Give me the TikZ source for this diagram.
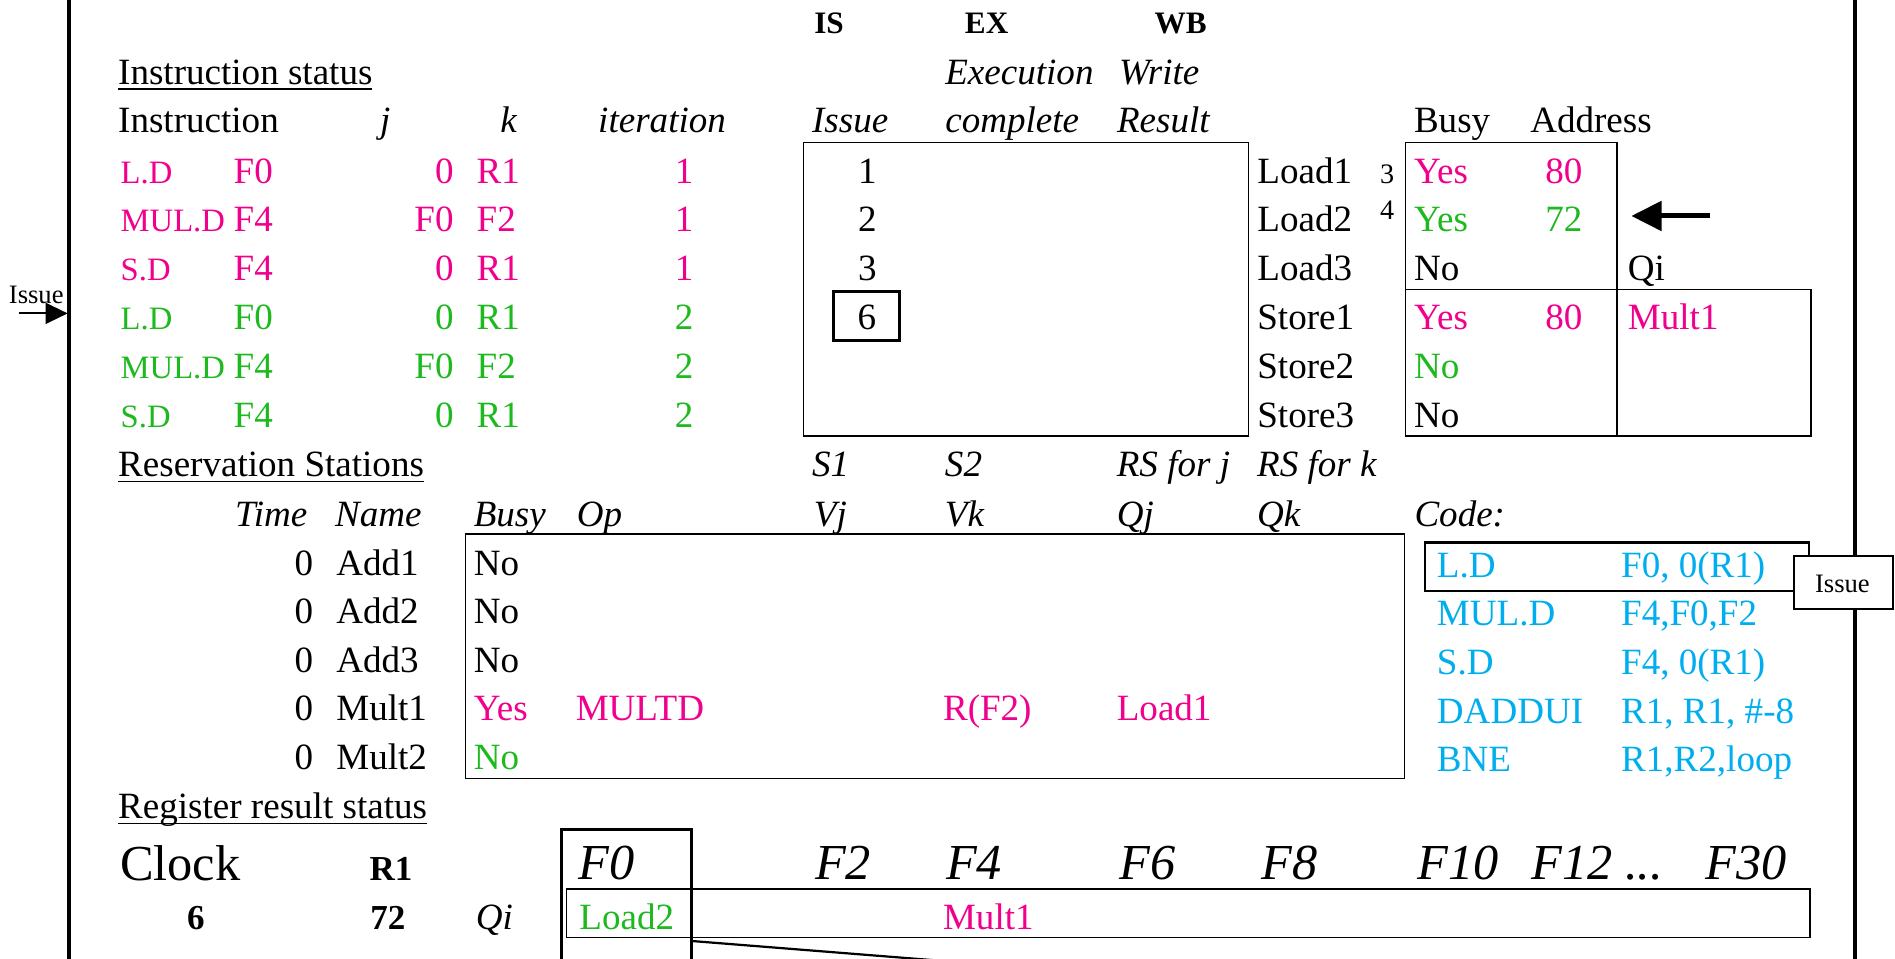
\documentclass[tikz,border=0pt]{standalone}
\usepackage{fontspec}
\setmainfont{Liberation Serif}
\usetikzlibrary{arrows.meta}
\definecolor{pinkc}{RGB}{240,0,140}
\definecolor{greenc}{RGB}{30,185,30}
\definecolor{bluec}{RGB}{0,174,239}
\newcommand{\mysizeN}{\fontsize{18.4}{22}\selectfont}
\newcommand{\mysizeO}{\fontsize{16.2}{20}\selectfont}
\newcommand{\mysizeB}{\fontsize{25}{30}\selectfont}
\newcommand{\mysizeS}{\fontsize{13.2}{16}\selectfont}
\newcommand{\mysizeH}{\fontsize{15.5}{18}\selectfont\bfseries}
\newcommand{\mysizeR}{\fontsize{17.4}{20}\selectfont\bfseries}
\newcommand{\mysizeD}{\fontsize{14}{16}\selectfont}
\begin{document}
\begin{tikzpicture}[x=0.6pt,y=-0.6pt,
  txt/.style={inner sep=0pt,outer sep=0pt,font=\mysizeN,anchor=base west},
  txtr/.style={txt,anchor=base east},
  txtc/.style={txt,anchor=base},
  ital/.style={font=\mysizeN\itshape},
  opf/.style={font=\mysizeO},
  hdr/.style={txtc,font=\mysizeH},
  regb/.style={txtc,font=\mysizeR},
  bigt/.style={txt,font=\mysizeB},
  bigit/.style={txt,font=\mysizeB\itshape},
  smallt/.style={txtc,font=\mysizeS},
  tinyt/.style={txtc,font=\mysizeD},
  thinbox/.style={draw,line width=0.65pt},
  medbox/.style={draw,line width=1.1pt},
  thickbox/.style={draw,line width=1.5pt},
  frameline/.style={draw,line width=2pt},
  ul/.style={draw,line width=0.75pt},
]
\useasboundingbox (0,0) rectangle (1568,793.5);
\clip (0,0) rectangle (1568,793.5);

% frame lines
\draw[frameline] (57.1,-5) -- (57.1,800);
\draw[frameline] (1535,-5) -- (1535,800);

% left Issue arrow
\node[smallt] (issueL) at (30,251) {Issue};
\coordinate (issueTail) at (15.7,259.3);
\coordinate (issueTip) at (56,259.3);
\draw[line width=1pt,-{Triangle[length=11pt,width=10.4pt]}] (issueTail) -- (issueTip);

% top headers
\node[hdr] (hIS) at (686,27.3) {IS};
\node[hdr] (hEX) at (816.4,27.3) {EX};
\node[hdr] (hWB) at (977,27.3) {WB};

\node[txt] (tInstStatus) at (97.8,70.3) {Instruction status};
\draw[ul] ([yshift=-2pt]tInstStatus.base west) -- ([yshift=-2pt]tInstStatus.base east);
\node[txt,ital] (tExec) at (782.2,70.3) {Execution};
\node[txt,ital] (tWrite) at (926,70.3) {Write};

\node[txt] (hInstr) at (97.8,110) {Instruction};
\node[txtc,ital] (hj) at (318.7,110) {j};
\node[txtc,ital] (hk) at (420.8,110) {k};
\node[txt,ital] (hIter) at (495,110) {iteration};
\node[txt,ital] (hIssue) at (672,110) {Issue};
\node[txt,ital] (hCompl) at (782.2,110) {complete};
\node[txt,ital] (hResult) at (924.3,110) {Result};
\node[txt] (hBusy) at (1170,110) {Busy};
\node[txt] (hAddr) at (1266.2,110) {Address};

% instruction rows
\foreach \n/\op/\d/\j/\k/\itn/\c in {1/L.D/F0/0/R1/1/pinkc,2/MUL.D/F4/F0/F2/1/pinkc,3/S.D/F4/0/R1/1/pinkc,4/L.D/F0/0/R1/2/greenc,5/MUL.D/F4/F0/F2/2/greenc,6/S.D/F4/0/R1/2/greenc}{
  \pgfmathsetmacro{\yy}{151.5+40.4*(\n-1)}
  \node[txt,opf,text=\c] (op\n) at (99.9,\yy) {\op};
  \node[txt,text=\c] (dst\n) at (193.4,\yy) {\d};
  \node[txtr,text=\c] (j\n) at (375.3,\yy) {\j};
  \node[txt,text=\c] (k\n) at (394.4,\yy) {\k};
  \node[txtc,text=\c] (it\n) at (566,\yy) {\itn};
}

% issue box
\draw[thinbox] (664.7,118) rectangle (1033.3,360.8);
\node[txtc] (is1) at (717.7,151.5) {1};
\node[txtc] (is2) at (717.7,191.9) {2};
\node[txtc] (is3) at (717.7,232.3) {3};
\node[txtc] (is6) at (717.3,272.7) {6};
\draw[thickbox] (690,241.3) rectangle (744.2,281.9);

% load/store buffers
\foreach \n/\nm in {1/Load1,2/Load2,3/Load3,4/Store1,5/Store2,6/Store3}{
  \pgfmathsetmacro{\yy}{151.5+40.4*(\n-1)}
  \node[txt] (buf\n) at (1040.4,\yy) {\nm};
}
\node[tinyt] (cnt3) at (1147.7,151.5) {3};
\node[tinyt] (cnt4) at (1147.7,182) {4};

\draw[thinbox] (1163,118) rectangle (1338,360.8);
\draw[thinbox] (1338,239.4) rectangle (1498.5,360.8);
\draw[thinbox] (1163,239.4) -- (1338,239.4);

\node[txt,text=pinkc] (b1) at (1170,151.5) {Yes};
\node[txtc,text=pinkc] (a1) at (1294,151.5) {80};
\node[txt,text=greenc] (b2) at (1170,191.9) {Yes};
\node[txtc,text=greenc] (a2) at (1294,191.9) {72};
\node[txt] (b3) at (1170,232.3) {No};
\node[txt] (qiH) at (1347,232.3) {Qi};
\node[txt,text=pinkc] (b4) at (1170,272.7) {Yes};
\node[txtc,text=pinkc] (a4) at (1294,272.7) {80};
\node[txt,text=pinkc] (q4) at (1347,272.7) {Mult1};
\node[txt,text=greenc] (b5) at (1170,313.1) {No};
\node[txt] (b6) at (1170,353.5) {No};

\coordinate (ptrTail) at (1414.8,178.7);
\coordinate (ptrTip) at (1349.8,178.7);
\draw[line width=2.5pt,-{Triangle[length=15pt,width=14.4pt]}] (ptrTail) -- (ptrTip);

% reservation stations
\node[txt] (tRS) at (97.8,394.4) {Reservation Stations};
\draw[ul] ([yshift=-2.4pt]tRS.base west) -- ([yshift=-2.4pt]tRS.base east);
\node[txt,ital] (hS1) at (672,394.4) {S1};
\node[txt,ital] (hS2) at (781.9,394.4) {S2};
\node[txt,ital] (hRSj) at (924.1,394.4) {RS for j};
\node[txt,ital] (hRSk) at (1040.2,394.4) {RS for k};

\node[txt,ital] (hTime) at (194.6,435.8) {Time};
\node[txt,ital] (hName) at (277.3,435.8) {Name};
\node[txt,ital] (hRBusy) at (392,435.8) {Busy};
\node[txt,ital] (hOp) at (477.4,435.8) {Op};
\node[txt,ital] (hVj) at (673.5,435.8) {Vj};
\node[txt,ital] (hVk) at (781.9,435.8) {Vk};
\node[txt,ital] (hQj) at (924.1,435.8) {Qj};
\node[txt,ital] (hQk) at (1040.2,435.8) {Qk};
\node[txt,ital] (hCode) at (1170.4,435.8) {Code:};

\draw[thinbox] (385.2,441.9) rectangle (1162.3,644);

\foreach \n/\nm in {1/Add1,2/Add2,3/Add3,4/Mult1,5/Mult2}{
  \pgfmathsetmacro{\yy}{475.8+40.2*(\n-1)}
  \node[txtr] (rt\n) at (259.2,\yy) {0};
  \node[txt] (rn\n) at (278.3,\yy) {\nm};
}
\node[txt] (rb1) at (392,475.8) {No};
\node[txt] (rb2) at (392,516) {No};
\node[txt] (rb3) at (392,556.2) {No};
\node[txt,text=pinkc] (rb4) at (392,596.4) {Yes};
\node[txt,text=pinkc] (rop4) at (476.4,596.4) {MULTD};
\node[txt,text=pinkc] (rvk4) at (780.3,596.4) {R(F2)};
\node[txt,text=pinkc] (rqj4) at (924.1,596.4) {Load1};
\node[txt,text=greenc] (rb5) at (392,636.6) {No};

% code
\draw[medbox] (1179.4,448.8) rectangle (1497,489);
\node[txt,text=bluec] (c1a) at (1189,477.5) {L.D};
\node[txt,text=bluec] (c1b) at (1341.4,477.5) {F0, 0(R1)};
\node[txt,text=bluec] (c2a) at (1189,517.8) {MUL.D};
\node[txt,text=bluec] (c2b) at (1341.4,517.8) {F4,F0,F2};
\node[txt,text=bluec] (c3a) at (1189,558.1) {S.D};
\node[txt,text=bluec] (c3b) at (1341.4,558.1) {F4, 0(R1)};
\node[txt,text=bluec] (c4a) at (1189,598.4) {DADDUI};
\node[txt,text=bluec] (c4b) at (1341.4,598.4) {R1, R1, \#-8};
\node[txt,text=bluec] (c5a) at (1189,638.7) {BNE};
\node[txt,text=bluec] (c5b) at (1341.4,638.7) {R1,R2,loop};

\draw[medbox,fill=white] (1484.7,460) rectangle (1566,504);
\node[smallt] (issueR) at (1524.5,490.4) {Issue};

% register result status
\node[txt] (tReg) at (97.8,677.2) {Register result status};
\draw[ul] ([yshift=-2.4pt]tReg.base west) -- ([yshift=-2.4pt]tReg.base east);

\node[bigt] (clk) at (99.3,728.2) {Clock};
\node[regb] (r1h) at (323.5,728.2) {R1};
\node[regb] (clkv) at (162,768.8) {6};
\node[regb] (r1v) at (321,768.8) {72};
\node[txt,ital] (qiR) at (393.7,768.8) {Qi};

\node[bigit] (regF0) at (478.6,727.8) {F0};
\node[bigit] (regF2) at (674.4,727.8) {F2};
\node[bigit] (regF4) at (782.8,727.8) {F4};
\node[bigit] (regF6) at (926.7,727.8) {F6};
\node[bigit] (regF8) at (1043.7,727.8) {F8};
\node[bigit] (regF10) at (1172.9,727.8) {F10};
\node[bigit] (regF12) at (1267.3,727.8) {F12 ...};
\node[bigit] (regF30) at (1411,727.8) {F30};

\draw[thinbox] (469,735.6) rectangle (1497.7,775.9);
\node[txt,text=greenc] (qF0) at (479.4,769) {Load2};
\node[txt,text=pinkc] (qF4) at (780.3,769) {Mult1};

\draw[thickbox] (464.9,686.2) rectangle (572.4,800);
\coordinate (diagA) at (572.4,778.6);
\coordinate (diagB) at (842,800);
\draw[line width=1.1pt] (diagA) -- (diagB);
\end{tikzpicture}
\end{document}
